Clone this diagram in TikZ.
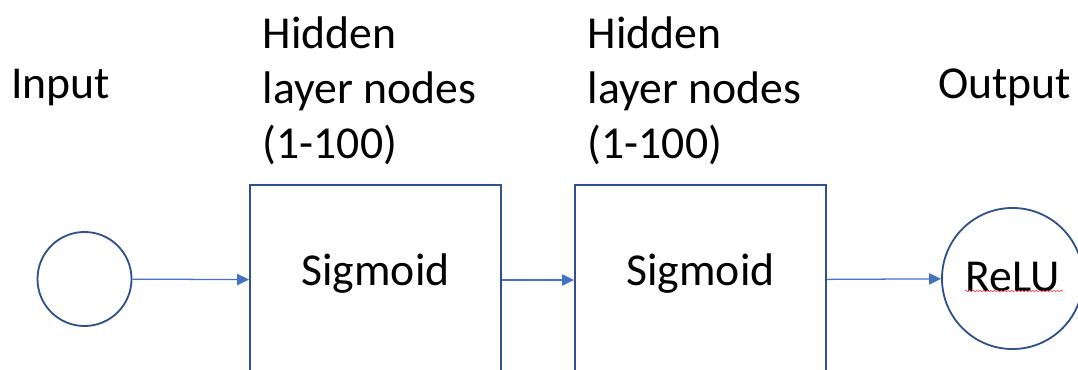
\documentclass[tikz,border=0pt]{standalone}
\usepackage{fontspec}
\setmainfont{Carlito}
\usetikzlibrary{arrows.meta,decorations.pathmorphing}

\definecolor{shapeblue}{HTML}{2F528F}
\definecolor{linkblue}{HTML}{4472C4}

\tikzset{
  neuron/.style={circle, draw=shapeblue, line width=1.3pt, inner sep=0pt},
  layerbox/.style={rectangle, draw=shapeblue, line width=1.3pt,
    minimum width=6.275cm, minimum height=4.75cm,
    text height=0.75em, text depth=0em},
  link/.style={draw=linkblue, line width=0.9pt,
    -{Triangle[length=8.5pt,width=8pt]}},
  caption/.style={inner sep=0pt, align=left}
}

\begin{document}
\begin{tikzpicture}[x=0.025cm, y=-0.025cm,
  font=\fontsize{32.5}{39}\selectfont]
\clip (0,0) rectangle (1078,369);

% units of the network
\node[neuron, minimum size=2.35cm] (in) at (84.5,279) {};
\node[layerbox] (hid1) at (375.5,280) {Sigmoid};
\node[layerbox] (hid2) at (700.5,280) {Sigmoid};
\node[neuron, minimum size=3.525cm, text depth=0.3em] (out) at (1012.5,278.5) {ReLU};

% labels above (base = last line)
\node[caption, anchor=base west] (lin) at (11,98) {Input};
\node[caption, anchor=base west] (lh1) at (262.5,158.5) {Hidden\\layer nodes\\(1-100)};
\node[caption, anchor=base west] (lh2) at (587.5,158.5) {Hidden\\layer nodes\\(1-100)};
\node[caption, anchor=base west] (lout) at (938,98) {Output};

\draw[link] (in) -- (hid1);
\draw[link] (hid1) -- (hid2);
\draw[link] (hid2) -- (out);

% spell-check squiggle under ReLU
\coordinate (sqa) at (965,291);
\coordinate (sqb) at (1063,291);
\draw[red!80, line width=0.4pt, decorate,
  decoration={snake, amplitude=0.5pt, segment length=2.5pt}] (sqa) -- (sqb);

\end{tikzpicture}
\end{document}
